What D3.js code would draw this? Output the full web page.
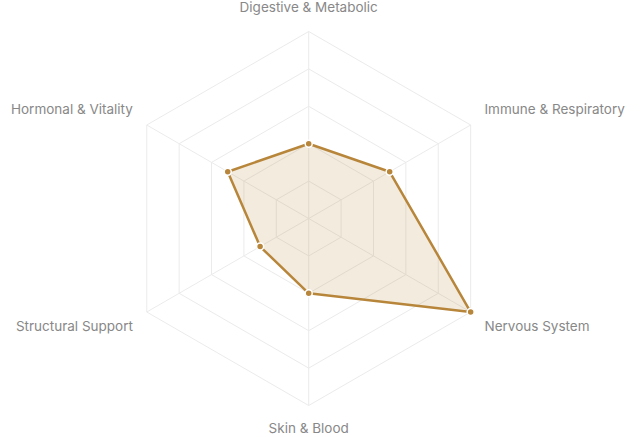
<!DOCTYPE html>
<html>
<head>
<meta charset="utf-8">
<script src="https://cdn.jsdelivr.net/npm/d3@7"></script>
<style>
  html, body { margin: 0; padding: 0; background: #ffffff; }
  svg { display: block; }
</style>
</head>
<body>
<svg id="chart" width="640" height="437"></svg>
<script>
const categories = ["Digestive & Metabolic", "Immune & Respiratory", "Nervous System", "Skin & Blood", "Structural Support", "Hormonal & Vitality"];
const values = [40, 50, 100, 40, 30, 50];
const gridLevels = [20, 40, 60, 80, 100];
const maxValue = 100;

const width = 640, height = 437;
const cx = 308.7, cy = 218.5, R = 187;
const labelR = 203;
const color = "#b8863b";

const svg = d3.select("#chart");
const g = svg.append("g").attr("transform", `translate(${cx},${cy})`);

const n = categories.length;
const angle = d3.scaleLinear().domain([0, n]).range([0, 2 * Math.PI]);
const r = d3.scaleLinear().domain([0, maxValue]).range([0, R]);

function pt(i, v) {
  const a = angle(i);
  return [r(v) * Math.sin(a), -r(v) * Math.cos(a)];
}

// grid rings
const lineClosed = d3.line().curve(d3.curveLinearClosed);
g.selectAll("path.ring").data(gridLevels).enter().append("path")
  .attr("class", "ring")
  .attr("d", lv => lineClosed(d3.range(n).map(i => pt(i, lv))))
  .attr("fill", "none")
  .attr("stroke", "#ebebeb")
  .attr("stroke-width", 1);

// spokes
g.selectAll("line.spoke").data(d3.range(n)).enter().append("line")
  .attr("class", "spoke")
  .attr("x1", 0).attr("y1", 0)
  .attr("x2", i => pt(i, maxValue)[0])
  .attr("y2", i => pt(i, maxValue)[1])
  .attr("stroke", "#ebebeb")
  .attr("stroke-width", 1);

// data area
const pts = values.map((v, i) => pt(i, v));
g.append("path")
  .attr("d", lineClosed(pts))
  .attr("fill", color)
  .attr("fill-opacity", 0.17)
  .attr("stroke", color)
  .attr("stroke-width", 2.5)
  .attr("stroke-linejoin", "round");

// points
g.selectAll("circle.pt").data(pts).enter().append("circle")
  .attr("class", "pt")
  .attr("cx", d => d[0]).attr("cy", d => d[1])
  .attr("r", 3.5)
  .attr("fill", color)
  .attr("stroke", "#ffffff")
  .attr("stroke-width", 1.5);

// labels
categories.forEach((c, i) => {
  const a = angle(i);
  const x = labelR * Math.sin(a);
  const y = -labelR * Math.cos(a);
  let anchor = "middle";
  if (x > 1) anchor = "start";
  else if (x < -1) anchor = "end";
  let baseline;
  if (y < -1) baseline = y - 3.5;       // upper: text bottom at point
  else baseline = y + 11;               // lower: text top at point
  g.append("text")
    .attr("x", x)
    .attr("y", baseline)
    .attr("text-anchor", anchor)
    .attr("font-family", "Inter, 'Noto Sans', sans-serif")
    .attr("font-size", 13.5)
    .attr("fill", "#888888")
    .text(c);
});
</script>
</body>
</html>
